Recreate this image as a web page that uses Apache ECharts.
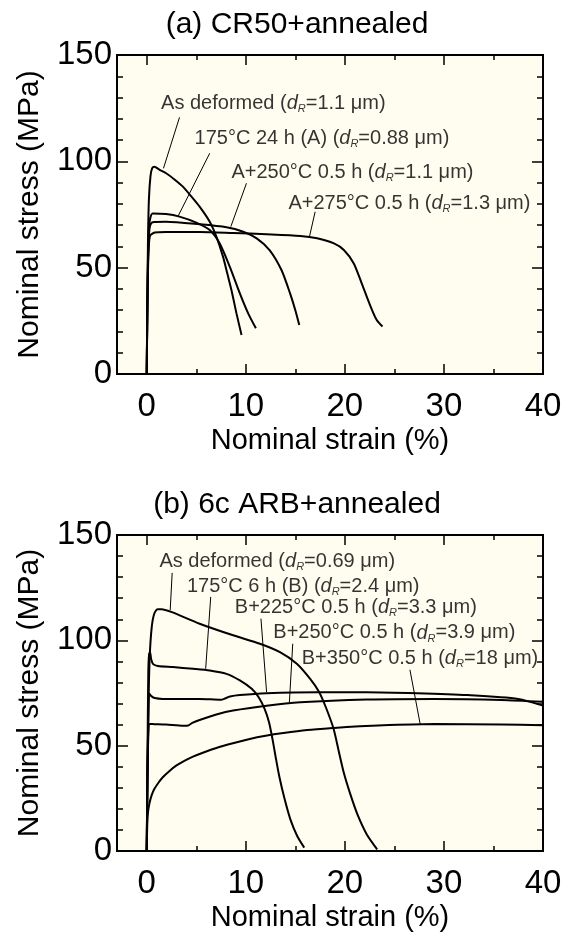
<!DOCTYPE html>
<html>
<head>
<meta charset="utf-8">
<script src="https://cdn.jsdelivr.net/npm/echarts@6/dist/echarts.min.js"></script>
<style>
  html, body { margin: 0; padding: 0; background: #fff; }
  #main { width: 571px; height: 933px; }
</style>
</head>
<body>
<div id="main"></div>
<script>
// tick labels
const xTickLabels = [0, 10, 20, 30, 40];
const xMajorTicks = [0, 10, 20, 30];
const xMinorTicks = [5, 15, 25, 35];

// (a) CR50+annealed  [strain %, stress MPa]
const a_asDeformed = [[0,0],[0.06,30],[0.12,60],[0.22,82],[0.38,93],[0.55,96.8],[0.78,97.5],[1.3,96],[1.96,94.4],[2.8,91.5],[3.65,88.1],[4.5,83.5],[5.34,78.7],[6.36,71.6],[7.03,64.6],[7.7,55.2],[8.15,47],[8.55,39.5],[9.06,28.5],[9.57,18.3]];
const a_175_24h = [[0,0],[0.06,30],[0.12,52],[0.2,66],[0.32,72.5],[0.6,75.5],[1.96,75.2],[3.3,74],[5.0,71.2],[6.36,67.7],[7.37,61.4],[8.38,50.5],[9.4,37.9],[10.24,28.5],[11.02,21.5]];
const a_A250 = [[0,0],[0.06,30],[0.12,50],[0.2,63],[0.32,69.5],[0.6,71.4],[1.96,71.6],[5.34,70.4],[8.05,69],[9.74,66.9],[11.1,63.8],[12.4,58.3],[13.6,48.9],[14.47,37.9],[15.0,30],[15.4,23]];
const a_A275 = [[0,0],[0.06,28],[0.12,47],[0.2,59],[0.34,65],[0.8,66.5],[1.96,66.8],[5.34,66.8],[8.72,66.3],[12.1,65.7],[15.5,64.9],[17.2,63.8],[18.9,61.4],[19.9,58.3],[20.9,52],[21.7,42.6],[22.6,31.7],[23.2,25.5],[23.8,22.3]];

// (b) 6c ARB+annealed
const b_asDeformed = [[0,0],[0.08,35],[0.18,70],[0.3,92],[0.5,106],[0.75,112.5],[1.1,114.8],[1.5,114.8],[2.47,113.5],[5.34,107.9],[8.72,102.4],[11.43,98.4],[13.45,94.4],[15.15,88.9],[16.5,81.7],[17.4,75.5],[18.1,68],[18.86,58],[19.4,47],[19.9,37],[20.55,27],[21.3,17],[22.2,8],[23.26,0.8]];
const b_175_6h = [[0,0],[0.08,45],[0.16,85],[0.24,93.5],[0.34,94.4],[0.45,91],[0.65,88.7],[1.12,87.8],[2.64,87.3],[4.67,86.5],[6.36,85.7],[8.05,84.1],[9.4,81],[10.6,77],[11.3,73],[11.9,67.5],[12.35,61],[12.7,53],[13.0,45],[13.4,35],[13.9,25],[14.5,15],[15.2,7],[15.9,1.6]];
const b_B225 = [[0,0],[0.08,40],[0.18,68],[0.27,74.6],[0.5,73.4],[0.8,72.6],[1.62,72.2],[5.34,72.2],[7.5,71.8],[7.9,72.4],[8.4,73.3],[9.4,74],[12.1,74.9],[17.2,75.4],[22.2,75.4],[27.3,74.9],[32.4,74],[37.5,72.2],[40,69]];
const b_B250 = [[0,0],[0.08,38],[0.18,57],[0.27,60.3],[0.8,60.2],[1.96,60],[3.7,59.4],[4.2,59.6],[4.6,60.8],[5.34,62.2],[7.03,64.8],[8.72,66.7],[12.1,69],[15.5,70.6],[22.2,71.9],[29,72.2],[35.8,71.7],[40,70.8]];
const b_B350 = [[0,0],[0.05,12],[0.12,18],[0.27,22.5],[0.5,26.5],[0.78,29.5],[1.2,32.5],[1.62,35],[2.3,38],[2.97,40.5],[3.8,42.8],[4.67,44.8],[5.8,46.9],[7.03,48.9],[8.6,51],[10.4,53.2],[12,54.7],[13.8,56],[16.2,57.4],[18.9,58.4],[21.5,59.2],[23.9,59.7],[29,60.3],[35.8,60],[40,59.7]];

// annotation texts
const a_labels = [
  'As deformed ({i|d}{s|R}=1.1 μm)',
  '175°C 24 h (A) ({i|d}{s|R}=0.88 μm)',
  'A+250°C 0.5 h ({i|d}{s|R}=1.1 μm)',
  'A+275°C 0.5 h ({i|d}{s|R}=1.3 μm)'
];
const b_labels = [
  'As deformed ({i|d}{s|R}=0.69 μm)',
  '175°C 6 h (B) ({i|d}{s|R}=2.4 μm)',
  'B+225°C 0.5 h ({i|d}{s|R}=3.3 μm)',
  'B+250°C 0.5 h ({i|d}{s|R}=3.9 μm)',
  'B+350°C 0.5 h ({i|d}{s|R}=18 μm)'
];
// label anchors and leader lines in data units
const a_labelAt = [[1.45,127.3],[4.83,110.8],[8.55,94.8],[14.3,80.3]];
const a_leaders = [[[3.31,120.7],[1.69,96.7]],[[6.36,103.8],[3.14,74]],[[10.07,89.7],[8.49,69.3]],[[17.0,76.3],[16.43,64.6]]];
const b_labelAt = [[1.28,137.3],[4.06,125.7],[8.89,115.4],[12.78,103.5],[15.65,91.3]];
const b_leaders = [[[2.57,132],[2.37,114.3]],[[6.46,120.6],[5.95,86.5]],[[11.53,110.3],[12.1,75.4]],[[14.74,98.4],[14.4,70.6]],[[26.57,86],[27.6,60.3]]];

const FONT = "'Liberation Sans', Arial, Helvetica, sans-serif";
const chart = echarts.init(document.getElementById('main'), null, { renderer: 'canvas' });

const grids = [
  { left: 117, top: 55, width: 426, height: 319 },
  { left: 117, top: 535, width: 426, height: 319 }
];

const tickStyle = { color: '#000', width: 1.5 };

function xAxes(g) {
  const base = { gridIndex: g, type: 'value', min: -3, max: 40, axisLine: { show: false, onZero: false }, splitLine: { show: false } };
  const lbl = { show: true, customValues: xTickLabels, fontSize: 33, color: '#000', fontFamily: FONT, margin: 16 };
  return [
    Object.assign({}, base, { position: 'bottom', axisTick: { inside: true, length: 10, customValues: xMajorTicks, lineStyle: tickStyle }, axisLabel: lbl,
      name: 'Nominal strain (%)', nameLocation: 'middle', nameGap: 52, nameTextStyle: { fontSize: 29, color: '#000', fontFamily: FONT } }),
    Object.assign({}, base, { position: 'bottom', axisTick: { inside: true, length: 5, customValues: xMinorTicks, lineStyle: tickStyle }, axisLabel: { show: false } }),
    Object.assign({}, base, { position: 'top', axisTick: { inside: true, length: 10, customValues: xMajorTicks, lineStyle: tickStyle }, axisLabel: { show: false } }),
    Object.assign({}, base, { position: 'top', axisTick: { inside: true, length: 5, customValues: xMinorTicks, lineStyle: tickStyle }, axisLabel: { show: false } })
  ];
}

function yAxes(g) {
  const base = { gridIndex: g, type: 'value', min: 0, max: 150, interval: 50, axisLine: { show: false, onZero: false }, splitLine: { show: false },
    axisTick: { inside: true, length: 11, lineStyle: tickStyle },
    minorTick: { show: true, splitNumber: 5, length: 6, lineStyle: tickStyle } };
  return [
    Object.assign({}, base, { position: 'left', axisLabel: { fontSize: 33, color: '#000', fontFamily: FONT, margin: 5 },
      name: 'Nominal stress (MPa)', nameLocation: 'middle', nameGap: 72, nameTextStyle: { fontSize: 30, color: '#000', fontFamily: FONT } }),
    Object.assign({}, base, { position: 'right', axisLabel: { show: false } })
  ];
}

function curve(g, data) {
  return { type: 'line', xAxisIndex: g * 4, yAxisIndex: g * 2, data: data, showSymbol: false, smooth: 0.25,
    lineStyle: { color: '#000', width: 2 }, silent: true, z: 3 };
}

const rich = {
  i: { fontStyle: 'italic', fontSize: 20, fontFamily: FONT, color: '#000' },
  s: { fontStyle: 'italic', fontSize: 11, fontFamily: FONT, color: '#000', verticalAlign: 'bottom', lineHeight: 12 }
};

function labels(g, texts, at) {
  return { type: 'scatter', xAxisIndex: g * 4, yAxisIndex: g * 2, symbolSize: 0, silent: true, z: 5,
    data: texts.map((t, k) => ({ value: at[k], label: { formatter: t } })),
    label: { show: true, position: 'right', distance: 0, fontSize: 20, fontFamily: FONT, color: '#000', lineHeight: 22, rich: rich } };
}

function leaders(g, segs) {
  return { type: 'lines', coordinateSystem: 'cartesian2d', xAxisIndex: g * 4, yAxisIndex: g * 2, silent: true, z: 4,
    lineStyle: { color: '#000', width: 1, opacity: 1 },
    data: segs.map(s => ({ coords: s })) };
}

const option = {
  animation: false,
  backgroundColor: '#fff',
  grid: grids.map(gr => Object.assign({ show: true, backgroundColor: '#fffdf0', borderColor: '#000', borderWidth: 2 }, gr)),
  xAxis: xAxes(0).concat(xAxes(1)),
  yAxis: yAxes(0).concat(yAxes(1)),
  graphic: [
    { type: 'text', x: 297, y: 25, style: { text: '(a) CR50+annealed', fontSize: 30, fontFamily: FONT, fill: '#000', textAlign: 'center', textVerticalAlign: 'middle' } },
    { type: 'text', x: 297, y: 505, style: { text: '(b) 6c ARB+annealed', fontSize: 30, fontFamily: FONT, fill: '#000', textAlign: 'center', textVerticalAlign: 'middle' } }
  ],
  series: [
    curve(0, a_asDeformed), curve(0, a_175_24h), curve(0, a_A250), curve(0, a_A275),
    leaders(0, a_leaders), labels(0, a_labels, a_labelAt),
    curve(1, b_asDeformed), curve(1, b_175_6h), curve(1, b_B225), curve(1, b_B250), curve(1, b_B350),
    leaders(1, b_leaders), labels(1, b_labels, b_labelAt)
  ]
};

chart.setOption(option);
</script>
</body>
</html>
